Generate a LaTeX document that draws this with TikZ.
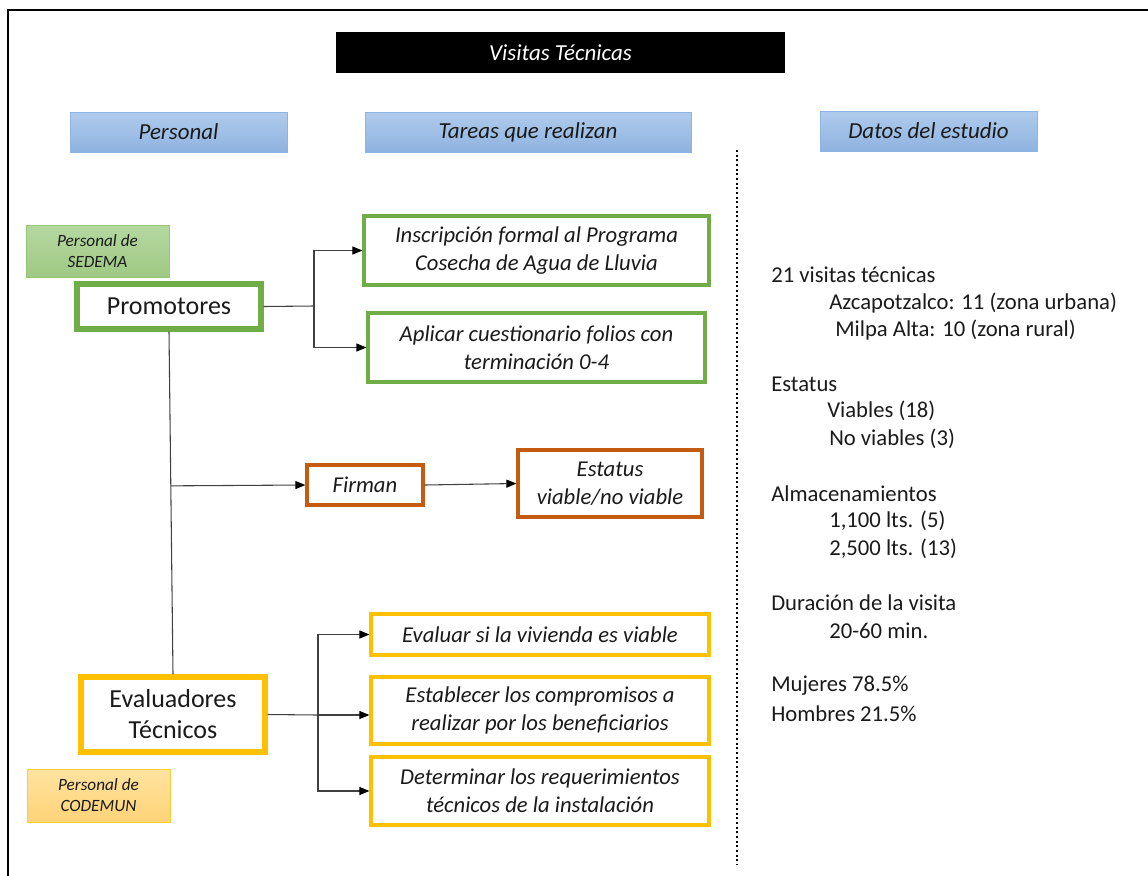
\documentclass[tikz,border=0pt]{standalone}
\usepackage{fontspec}
\setmainfont{Carlito}
\usetikzlibrary{arrows.meta,calc}
\definecolor{grn}{HTML}{70AD47}
\definecolor{org}{HTML}{C55A11}
\definecolor{ylw}{HTML}{FFC000}
\definecolor{conn}{HTML}{404040}
\definecolor{txt}{HTML}{1A1A1A}
% box from (x1,y1) to (x2,y2) in pixel units
\newcommand\pbox[7]{%
  \node[#6, minimum width={(#4-#2)*0.75pt}, minimum height={(#5-#3)*0.75pt}]
    (#1) at ({(#2+#4)/2},{(#3+#5)/2}) {#7};}
\begin{document}
\begin{tikzpicture}[x=0.75pt,y=-0.75pt,
  basebox/.style={inner sep=0pt, align=center, text=txt},
  headbox/.style={basebox, draw={rgb,255:red,141;green,180;blue,226}, line width=0.6pt,
    top color={rgb,255:red,176;green,203;blue,236},
    bottom color={rgb,255:red,142;green,179;blue,224},
    font=\fontsize{17.2pt}{20pt}\selectfont\itshape},
  titlebox/.style={basebox, fill=black, text=white,
    font=\fontsize{17.2pt}{20pt}\selectfont\itshape},
  greenlabel/.style={basebox, draw={rgb,255:red,150;green,198;blue,120}, line width=0.6pt,
    top color={rgb,255:red,181;green,216;blue,161},
    bottom color={rgb,255:red,158;green,201;blue,131},
    font=\fontsize{12.9pt}{15.75pt}\selectfont\itshape},
  orangelabel/.style={basebox, draw=ylw!80, line width=0.6pt,
    top color={rgb,255:red,255;green,227;blue,160},
    bottom color={rgb,255:red,255;green,211;blue,120},
    font=\fontsize{12.9pt}{15.75pt}\selectfont\itshape},
  rolebox/.style={basebox, fill=white, line width=3.8pt,
    font=\fontsize{19.5pt}{23.25pt}\selectfont},
  taskbox/.style={basebox, fill=white, line width=2.4pt,
    font=\fontsize{17pt}{21pt}\selectfont\itshape},
  datatext/.style={anchor=west, inner sep=0pt, text=txt,
    font=\fontsize{17pt}{20pt}\selectfont},
  arr/.style={draw=conn, line width=0.8pt, -{Triangle[length=7.5pt,width=6pt,color=black]}},
  ln/.style={draw=conn, line width=0.8pt}
]
\useasboundingbox (0,0) rectangle (1148,875);

% outer frame
\draw[line width=1.5pt] (8,877) -- (8,10) -- (1150,10);

% title and column headers
\pbox{title}{336}{32}{785}{73}{titlebox}{Visitas Técnicas}
\pbox{hpers}{70}{112}{287}{152}{headbox}{Personal}
\pbox{htask}{365}{112}{691}{152}{headbox}{Tareas que realizan}
\pbox{hdata}{820}{111}{1037}{151}{headbox}{Datos del estudio}

% column separator
\draw[line width=1.5pt, dash pattern=on 1.5pt off 2pt] (737,150) -- (737,865);

% staff labels
\pbox{sedema}{26}{225}{169}{277}{greenlabel}{Personal de\\SEDEMA}
\pbox{codemun}{27}{769}{170}{822}{orangelabel}{Personal de\\CODEMUN}

% roles
\pbox{prom}{77}{284}{261}{329}{rolebox, draw=grn}{Promotores}
\pbox{eval}{81}{677}{265}{752}{rolebox, draw=ylw}{Evaluadores\\Técnicos}

% tasks
\pbox{t1}{364}{216}{709}{285}{taskbox, draw=grn}{Inscripción formal al Programa\\Cosecha de Agua de Lluvia}
\pbox{t2}{368}{313}{705}{382}{taskbox, draw=grn}{Aplicar cuestionario folios con\\terminación 0-4}
\pbox{firm}{307}{465}{423}{505}{taskbox, draw=org}{Firman}
\pbox{est}{518}{450}{702}{517}{taskbox, draw=org}{Estatus\\viable/no viable}
\pbox{t3}{371}{614}{709}{655}{taskbox, draw=ylw}{Evaluar si la vivienda es viable}
\pbox{t4}{371}{677}{709}{744}{taskbox, draw=ylw}{Establecer los compromisos a\\realizar por los beneficiarios}
\pbox{t5}{371}{757}{709}{825}{taskbox, draw=ylw}{Determinar los requerimientos\\técnicos de la instalación}

% connectors
\coordinate (pj) at (314,306);
\draw[ln] (prom.east) -- (pj);
\draw[arr] (pj) |- (t1.west);
\draw[arr] (pj) |- (t2.west);

\draw[ln] (prom.south) -- (eval.north);
\coordinate (fj) at ($(prom.south)!0.45!(eval.north)$);
\draw[arr] (fj) -- (firm.west);
\draw[arr] (firm.east) -- (est.west);

\coordinate (ej) at (318,715);
\draw[ln] (eval.east) -- (ej);
\draw[arr] (ej) |- (t3.west);
\draw[arr] (ej) -- (ej -| t4.west);
\draw[arr] (ej) |- (t5.west);

% study data
\node[datatext] (d1)  at (771,275) {21 visitas técnicas};
\node[datatext] (d2)  at (829,303) {Azcapotzalco: 11 (zona urbana)};
\node[datatext] (d3)  at (835,330) {Milpa Alta: 10 (zona rural)};
\node[datatext] (d4)  at (771,384) {Estatus};
\node[datatext] (d5)  at (827,411) {Viables (18)};
\node[datatext] (d6)  at (829,439) {No viables (3)};
\node[datatext] (d7)  at (771,494) {Almacenamientos};
\node[datatext] (d8)  at (829,521) {1,100 lts. (5)};
\node[datatext] (d9)  at (829,549) {2,500 lts. (13)};
\node[datatext] (d10) at (771,603) {Duración de la visita};
\node[datatext] (d11) at (829,631) {20-60 min.};
\node[datatext] (d12) at (771,686) {Mujeres 78.5\%};
\node[datatext] (d13) at (771,714) {Hombres 21.5\%};
\end{tikzpicture}
\end{document}
